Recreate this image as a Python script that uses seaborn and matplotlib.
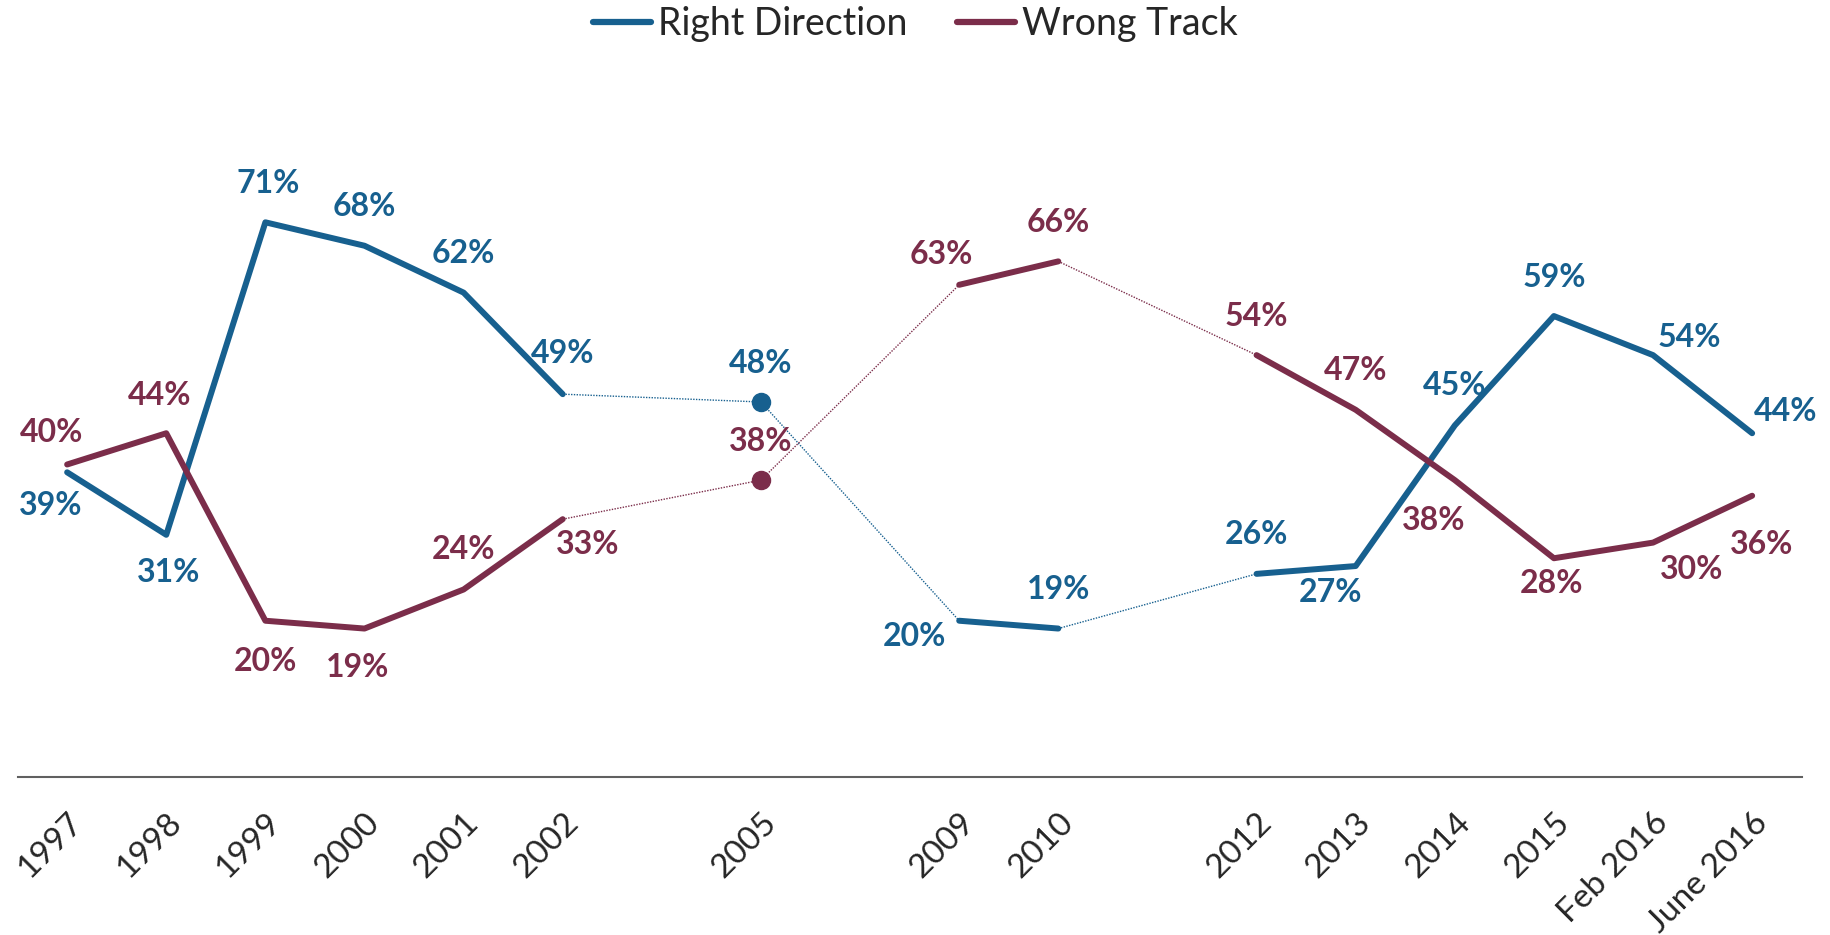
import numpy as np
import pandas as pd
import seaborn as sns
import matplotlib.pyplot as plt
from matplotlib.lines import Line2D

# Category slots as on the original axis (blank slots are empty rows)
periods = ["1997", "1998", "1999", "2000", "2001", "2002", "", "2005", "",
           "2009", "2010", "", "2012", "2013", "2014", "2015", "Feb 2016", "June 2016"]
right_direction = [39, 31, 71, 68, 62, 49, np.nan, 48, np.nan,
                   20, 19, np.nan, 26, 27, 45, 59, 54, 44]
wrong_track = [40, 44, 20, 19, 24, 33, np.nan, 38, np.nan,
               63, 66, np.nan, 54, 47, 38, 28, 30, 36]

# label offsets in points (dx, dy) for each non-blank slot
right_offsets = [(-12, -24), (2, -27), (2, 28), (0, 28), (0, 28), (0, 29), None, (0, 28), None,
                 (-32, -11), (0, 28), None, (0, 28), (-18, -19), (0, 29), (0, 28), (26, 13), (24, 16)]
wrong_offsets = [(-11, 23), (-5, 27), (0, -29), (-5, -28), (0, 29), (18, -18), None, (0, 28), None,
                 (-13, 22), (0, 28), None, (0, 28), (0, 28), (-15, -29), (-2, -18), (28, -19), (7, -35)]

BLUE = "#17608f"
MAROON = "#7b2d4a"

sns.set_style("white")
plt.rcParams['font.family'] = ['Lato', 'DejaVu Sans']

fig = plt.figure(figsize=(18.31, 9.35), dpi=100)
ax = fig.add_axes([0.0096, 0.169, 0.9744, 0.752])

x = np.arange(len(periods))


def draw_series(values, offsets, color):
    df = pd.DataFrame({"x": x, "y": values}).dropna()
    xs = df["x"].to_numpy()
    ys = df["y"].to_numpy()
    # split into runs of consecutive slots
    breaks = np.where(np.diff(xs) > 1)[0] + 1
    starts = np.concatenate([[0], breaks])
    ends = np.concatenate([breaks, [len(xs)]])
    for s, e in zip(starts, ends):
        if e - s > 1:
            sns.lineplot(x=xs[s:e], y=ys[s:e], ax=ax, color=color, lw=4.3,
                         solid_capstyle="round", estimator=None, sort=False)
        else:
            ax.plot(xs[s:e], ys[s:e], "o", color=color, ms=13)
    # thin dotted connectors across the blank slots
    for b in breaks:
        sns.lineplot(x=xs[b - 1:b + 1], y=ys[b - 1:b + 1], ax=ax, color=color,
                     lw=1.0, linestyle=(0, (1, 1)), estimator=None, sort=False)
    for xi, yi in zip(xs, ys):
        dx, dy = offsets[int(xi)]
        ax.annotate(f"{yi:.0f}%", (xi, yi), xytext=(dx, dy), textcoords="offset points",
                    ha="center", va="center", fontsize=23, fontweight="bold", color=color)


draw_series(right_direction, right_offsets, BLUE)
draw_series(wrong_track, wrong_offsets, MAROON)

ax.set_xlim(-0.5, len(periods) - 0.5)
ax.set_ylim(0, 90)
ax.set_yticks([])
ax.set_xticks(x)
ax.set_xticklabels(periods, rotation=45, ha="right", rotation_mode="anchor", fontsize=24)
ax.tick_params(axis="x", length=0, pad=22)
ax.set_xlabel("")
ax.set_ylabel("")
for side in ["top", "right", "left"]:
    ax.spines[side].set_visible(False)
ax.spines["bottom"].set_color("#606060")
ax.spines["bottom"].set_linewidth(1.5)

handles = [Line2D([], [], color=BLUE, lw=4.5, solid_capstyle="round"),
           Line2D([], [], color=MAROON, lw=4.5, solid_capstyle="round")]
fig.legend(handles, ["Right Direction", "Wrong Track"], loc="upper center",
           bbox_to_anchor=(0.5, 1.03), ncol=2, frameon=False, fontsize=27,
           handlelength=1.55, handletextpad=0.2, columnspacing=1.3)

fig.savefig("out.png", dpi=100)
